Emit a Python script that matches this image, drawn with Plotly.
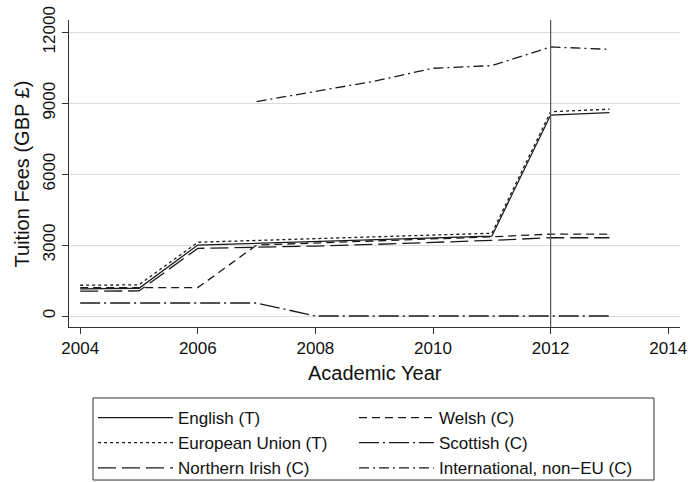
import plotly.graph_objects as go

years = [2004, 2005, 2006, 2007, 2008, 2009, 2010, 2011, 2012, 2013]
english = [1150, 1175, 3000, 3070, 3145, 3225, 3290, 3375, 8500, 8600]
eu = [1300, 1320, 3120, 3200, 3270, 3340, 3420, 3500, 8640, 8750]
n_irish = [1050, 1060, 2860, 2900, 2960, 3030, 3110, 3200, 3310, 3310]
welsh = [1200, 1200, 1200, 3000, 3080, 3170, 3260, 3350, 3465, 3465]
scottish = [550, 550, 550, 550, 0, 0, 0, 0, 0, 0]
intl_years = [2007, 2008, 2009, 2010, 2011, 2012, 2013]
international = [9070, 9500, 9930, 10480, 10590, 11380, 11280]

x_ticks = [2004, 2006, 2008, 2010, 2012, 2014]
y_ticks = [0, 3000, 6000, 9000, 12000]
policy_year = 2012

ink = "#1a1a1a"
# (name, x, y, dash, legend column)
series = [
    ("English (T)", years, english, "solid", "legend"),
    ("European Union (T)", years, eu, "3px,3px", "legend"),
    ("Northern Irish (C)", years, n_irish, "18px,6px", "legend"),
    ("Welsh (C)", years, welsh, "8px,5px", "legend2"),
    ("Scottish (C)", years, scottish, "20px,4px,2px,4px", "legend2"),
    ("International, non\u2212EU (C)", intl_years, international, "10px,4px,2px,4px", "legend2"),
]

fig = go.Figure()
for name, xs, ys, dash, lg in series:
    fig.add_trace(go.Scatter(x=xs, y=ys, mode="lines", name=name, legend=lg,
                             line=dict(color=ink, width=1.3, dash=dash)))

font = "Liberation Sans, Arial, Helvetica, sans-serif"
leg_common = dict(orientation="v", y=-0.238, xanchor="left", yanchor="top",
                  borderwidth=0, bgcolor="rgba(0,0,0,0)", font=dict(size=17),
                  itemwidth=75, tracegroupgap=0)
fig.update_layout(
    width=688, height=482,
    margin=dict(l=69, r=8, t=20, b=155, autoexpand=False),
    plot_bgcolor="white", paper_bgcolor="white",
    font=dict(family=font, size=17, color="#111111"),
    showlegend=True,
    legend=dict(x=0.0393, **leg_common),
    legend2=dict(x=0.4664, **leg_common),
    annotations=[
        dict(text="Academic Year", xref="paper", yref="paper", x=0.5, y=-0.15,
             xanchor="center", yanchor="middle", showarrow=False, font=dict(size=20)),
        dict(text="Tuition Fees (GBP \u00a3)", xref="paper", yref="paper", x=-0.077, y=0.5,
             xanchor="center", yanchor="middle", textangle=-90, showarrow=False,
             font=dict(size=20)),
    ],
)
# legend frame
fig.add_shape(type="rect", xref="paper", yref="paper", x0=0.0393, x1=0.9574,
              y0=-0.2313, y1=-0.4985, line=dict(color="#333333", width=1),
              fillcolor="rgba(0,0,0,0)", layer="below")
# policy change reference line
fig.add_vline(x=policy_year, line=dict(color="#555555", width=1.2), layer="above")

fig.update_xaxes(range=[2003.81, 2014.2], tickvals=x_ticks, showgrid=False, zeroline=False,
                 showline=True, linecolor="#333333", linewidth=1, ticks="outside", ticklen=6,
                 tickcolor="#333333", tickfont=dict(size=17), automargin=False)
fig.update_yaxes(range=[-465, 12521], tickvals=y_ticks, tickformat="d", showgrid=True,
                 gridcolor="#dcdcdc", gridwidth=1, zeroline=False, showline=True,
                 linecolor="#333333", linewidth=1, ticks="outside", ticklen=6,
                 tickcolor="#333333", tickangle=-90, tickfont=dict(size=17), automargin=False)

fig.write_html("out.html", config={"displayModeBar": False},
               post_script="document.body.style.margin='0';document.body.style.overflow='hidden';")
